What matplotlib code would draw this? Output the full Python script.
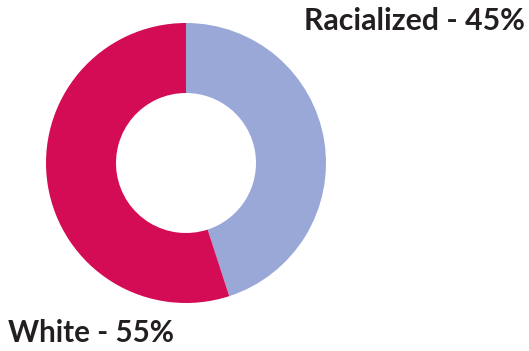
import matplotlib
matplotlib.use("Agg")
import matplotlib.pyplot as plt

# donut: share of racialized vs white
labels = ["Racialized", "White"]
shares = [45, 55]
colors = ["#9AA8D8", "#D40C55"]

W, H = 529, 351
fig = plt.figure(figsize=(W / 100, H / 100), dpi=100)

# square axes, centre (186, 163) px, radius 140 px
cx, cy, r = 186, 163, 140
ax = fig.add_axes([(cx - r) / W, (H - cy - r) / H, 2 * r / W, 2 * r / H])
ax.pie(shares, colors=colors, startangle=90, counterclock=False,
       radius=1, wedgeprops=dict(width=0.5, linewidth=0))
ax.set_xlim(-1, 1)
ax.set_ylim(-1, 1)
ax.set_aspect("equal")
ax.axis("off")

font = dict(family=["Lato", "DejaVu Sans"], fontweight="bold",
            color="#231F20")
fig.text(525 / W, 1 - 21 / H, f"{labels[0]} - {shares[0]}%",
         ha="right", va="center", fontsize=21.8, **font)
fig.text(8 / W, 1 - 333 / H, f"{labels[1]} - {shares[1]}%",
         ha="left", va="center", fontsize=21.3, **font)

fig.savefig("out.png", dpi=100)
